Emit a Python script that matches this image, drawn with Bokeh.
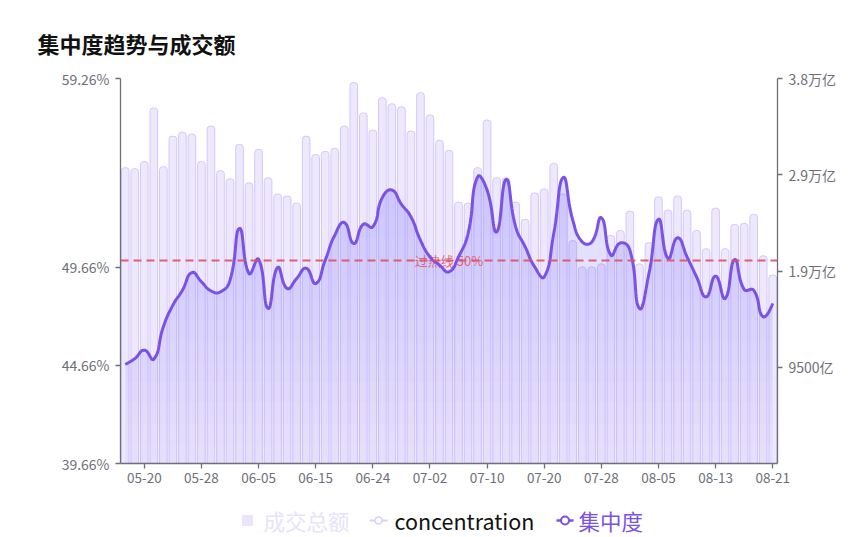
import numpy as np
from bokeh.plotting import figure
from bokeh.models import Range1d, LinearAxis, FixedTicker, CustomJSTickFormatter, Span
from bokeh.layouts import column
from bokeh.core.properties import value
from bokeh.embed import file_html
from bokeh.resources import INLINE

# ---------------- data ----------------
title_text = "集中度趋势与成交额"
tick_labels = ["05-20", "05-28", "06-05", "06-15", "06-24", "07-02",
               "07-10", "07-20", "07-28", "08-05", "08-13", "08-21"]
tick_index = [2, 8, 14, 20, 26, 32, 38, 44, 50, 56, 62, 68]

# 成交总额 (亿)
turnover = [29200, 29100, 29800, 35100, 29300, 32300, 32700, 32500, 29800, 33300,
            28900, 28100, 31500, 27700, 31000, 28200, 26600, 26400, 25700, 32300,
            30500, 30800, 31100, 33300, 37600, 34600, 32900, 36100, 35500, 35200,
            32800, 36600, 34400, 31900, 30900, 25800, 25700, 29200, 33900, 28200,
            28200, 25800, 24100, 26700, 27100, 29600, 26600, 22000, 19400, 19400,
            19700, 22500, 23000, 24900, 19700, 21800, 26300, 25000, 26400, 25000,
            23000, 21200, 25200, 21200, 23600, 23700, 24600, 20500, 18600]

# 集中度 (%)
concentration = [44.71, 45.00, 45.43, 44.97, 46.62, 47.72, 48.48, 49.38, 48.91, 48.45,
                 48.40, 48.99, 51.63, 49.33, 50.06, 47.55, 49.64, 48.57, 49.08, 49.60,
                 48.82, 50.01, 51.28, 51.93, 50.86, 51.84, 51.71, 53.20, 53.58, 52.86,
                 52.22, 51.03, 50.18, 49.76, 49.42, 50.18, 51.37, 54.25, 53.58, 51.45,
                 54.12, 51.71, 50.69, 49.67, 49.16, 51.37, 54.22, 52.05, 50.94, 50.94,
                 52.17, 50.27, 50.89, 50.52, 47.55, 49.33, 52.10, 50.10, 51.15, 50.18,
                 49.16, 48.14, 49.20, 48.06, 50.04, 48.52, 48.48, 47.13, 47.81]

threshold = 50
threshold_label = "过热线 50%"
left_ticks = [39.66, 44.66, 49.66, 59.26]
right_ticks = [9500, 19000, 28500, 38000]
right_max = 38000
legend_names = ["成交总额", "concentration", "集中度"]

# ---------------- layout / style ----------------
FONT = "Noto Sans CJK SC"
W, H_MAIN, H_LEG = 860, 490, 46
ML, MR, MT, MB = 120, 83, 78, 27
AXIS_C = "#6e7079"
LINE_C = "#7a52e6"
RED = "#e0505f"

n = len(turnover)
idx = np.arange(n)

p = figure(width=W, height=H_MAIN, output_backend="svg", toolbar_location=None,
           x_range=Range1d(-0.5, n - 0.5),
           y_range=Range1d(left_ticks[0], left_ticks[-1]),
           min_border_left=ML, min_border_right=MR,
           min_border_top=MT, min_border_bottom=MB)
p.extra_y_ranges = {"amt": Range1d(0, right_max)}
p.outline_line_color = None
p.grid.visible = False
p.background_fill_color = "white"
p.border_fill_color = "white"

# bars
p.vbar(x=idx, top=turnover, bottom=0, width=0.8, y_range_name="amt",
       fill_color="#eee8fd", line_color="#d4c7fa", line_width=1,
       border_radius=(3, 3, 0, 0))

# smooth line (ECharts-like bezier smoothing computed in pixel space)
frame_w = W - ML - MR
frame_h = H_MAIN - MT - MB
sx = frame_w / n
sy = frame_h / (left_ticks[-1] - left_ticks[0])
P = np.column_stack([idx * sx, np.array(concentration) * sy])
s = 0.5
cp_before = P.copy()
cp_after = P.copy()
for i in range(1, n - 1):
    prev, cur, nxt = P[i - 1], P[i], P[i + 1]
    v = nxt - prev
    d0 = np.linalg.norm(cur - prev)
    d1 = np.linalg.norm(nxt - cur)
    tot = d0 + d1
    d0, d1 = d0 / tot, d1 / tot
    cp_before[i] = cur - v * s * d0
    cp_after[i] = cur + v * s * d1
pts = []
tt = np.linspace(0, 1, 16)
for i in range(n - 1):
    a, b, c, d = P[i], cp_after[i], cp_before[i + 1], P[i + 1]
    seg = ((1 - tt) ** 3)[:, None] * a + (3 * (1 - tt) ** 2 * tt)[:, None] * b \
        + (3 * (1 - tt) * tt ** 2)[:, None] * c + (tt ** 3)[:, None] * d
    pts.append(seg if i == 0 else seg[1:])
pts = np.vstack(pts)
xs = pts[:, 0] / sx
ys = pts[:, 1] / sy

# gradient-like area under the line
base = left_ticks[0]
p.varea(x=xs, y1=np.full_like(ys, base), y2=ys, fill_color="#9a7af0", fill_alpha=0.085)
for lvl in np.linspace(base + 1.0, ys.max(), 14):
    p.varea(x=xs, y1=np.full_like(ys, lvl), y2=np.maximum(ys, lvl),
            fill_color="#9a7af0", fill_alpha=0.017)

# threshold label
p.text(x=[(n - 1) / 2], y=[threshold], text=[threshold_label], text_color=RED,
       text_alpha=0.85, text_font=value(FONT), text_font_size="13px",
       text_align="center", text_baseline="middle")

p.line(xs, ys, line_color=LINE_C, line_width=3)

p.add_layout(Span(location=threshold, dimension="width", line_color=RED,
                  line_width=2, line_dash="8 5", line_alpha=0.9))

# axes
p.yaxis.ticker = FixedTicker(ticks=left_ticks)
p.yaxis.formatter = CustomJSTickFormatter(code="return tick.toFixed(2) + '%';")
right_axis = LinearAxis(y_range_name="amt", ticker=FixedTicker(ticks=right_ticks),
                        formatter=CustomJSTickFormatter(code="""
if (tick >= 10000) { return (Math.round(tick / 1000) / 10).toFixed(1) + '万亿'; }
return tick + '亿';"""))
p.add_layout(right_axis, "right")
p.xaxis.ticker = FixedTicker(ticks=tick_index)
p.xaxis.formatter = CustomJSTickFormatter(args=dict(pos=tick_index, labs=tick_labels),
                                          code="const i = pos.indexOf(Math.round(tick)); return i >= 0 ? labs[i] : '';")

for ax in [p.xaxis[0], p.yaxis[0], right_axis]:
    ax.axis_line_color = AXIS_C
    ax.axis_line_width = 1.3
    ax.major_tick_line_color = AXIS_C
    ax.major_tick_line_width = 1.3
    ax.major_tick_out = 5
    ax.major_tick_in = 0
    ax.minor_tick_line_color = None
    ax.major_label_text_color = AXIS_C
    ax.major_label_text_font = FONT
    ax.major_label_text_font_size = "14px"
p.xaxis.major_label_text_font_size = "13.5px"
p.xaxis.major_label_standoff = 4
p.yaxis.major_label_standoff = 6
right_axis.major_label_standoff = 6

# title
p.title.text = title_text
p.title.text_font = FONT
p.title.text_font_size = "22px"
p.title.text_font_style = "bold"
p.title.text_color = "#111111"
p.title.align = "left"
p.title.offset = -(ML - 37)
p.title.standoff = 40

# ---------------- legend (separate strip, frame aligned with the chart) ----------------
leg = figure(width=W, height=H_LEG, output_backend="svg", toolbar_location=None,
             x_range=Range1d(ML, W - MR), y_range=Range1d(H_MAIN + H_LEG, H_MAIN),
             min_border_left=ML, min_border_right=MR, min_border_top=0, min_border_bottom=0)
leg.axis.visible = False
leg.grid.visible = False
leg.outline_line_color = None
cy = 520
leg.rect(x=[247], y=[cy], width=11, height=11, fill_color="#ebe5fc", line_color=None)
leg.text(x=[263], y=[cy], text=[legend_names[0]], text_color="#e8e2fb",
         text_font=value(FONT), text_font_size="21.5px", text_baseline="middle")
leg.line(x=[369, 387], y=[cy, cy], line_color="#d9d0fa", line_width=2)
leg.scatter(x=[378], y=[cy], size=7, marker="circle", fill_color="white",
            line_color="#d9d0fa", line_width=1.5)
leg.text(x=[394], y=[cy], text=[legend_names[1]], text_color="#111111",
         text_font=value(FONT), text_font_size="21.5px", text_baseline="middle")
leg.line(x=[556, 573], y=[cy, cy], line_color=LINE_C, line_width=2.5)
leg.scatter(x=[564.5], y=[cy], size=8, marker="circle", fill_color="white",
            line_color=LINE_C, line_width=2)
leg.text(x=[578], y=[cy], text=[legend_names[2]], text_color=LINE_C,
         text_font=value(FONT), text_font_size="21.5px", text_baseline="middle")

layout = column(p, leg, spacing=0)
open("out.html", "w").write(file_html(layout, INLINE))
